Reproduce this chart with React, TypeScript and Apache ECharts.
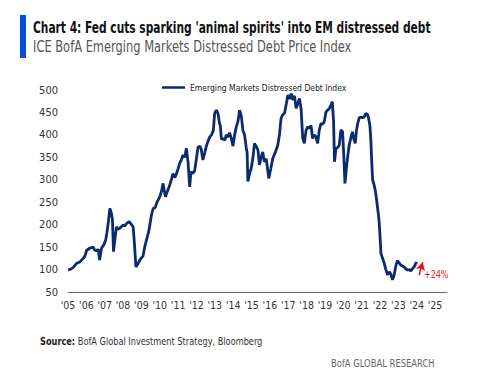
import React, { useEffect, useRef } from "react";
import * as echarts from "echarts";

const years: number[] = [
  2005.0, 2005.15, 2005.29, 2005.47, 2005.65, 2005.83, 2005.92, 2006.02, 2006.2, 2006.38,
  2006.45, 2006.56, 2006.65, 2006.72, 2006.83, 2006.95, 2007.05, 2007.12, 2007.19, 2007.28,
  2007.35, 2007.42, 2007.48, 2007.55, 2007.64, 2007.73, 2007.82, 2007.92, 2008.0, 2008.1,
  2008.2, 2008.33, 2008.46, 2008.55, 2008.62, 2008.7, 2008.8, 2008.9, 2009.0, 2009.09,
  2009.18, 2009.27, 2009.4, 2009.54, 2009.64, 2009.75, 2009.85, 2010.0, 2010.1, 2010.18,
  2010.25, 2010.31, 2010.42, 2010.54, 2010.63, 2010.72, 2010.82, 2010.9, 2011.0, 2011.09,
  2011.18, 2011.27, 2011.36, 2011.45, 2011.54, 2011.63, 2011.7, 2011.8, 2011.9, 2011.99,
  2012.08, 2012.18, 2012.26, 2012.35, 2012.45, 2012.53, 2012.62, 2012.72, 2012.82, 2012.92,
  2012.99, 2013.08, 2013.17, 2013.26, 2013.3, 2013.36, 2013.45, 2013.55, 2013.62, 2013.72,
  2013.8, 2013.9, 2013.99, 2014.08, 2014.17, 2014.26, 2014.35, 2014.45, 2014.53, 2014.62,
  2014.71, 2014.76, 2014.8, 2014.9, 2014.98, 2015.08, 2015.16, 2015.25, 2015.35, 2015.43,
  2015.52, 2015.61, 2015.7, 2015.8, 2015.94, 2016.05, 2016.16, 2016.3, 2016.43, 2016.52,
  2016.61, 2016.7, 2016.8, 2016.9, 2016.98, 2017.07, 2017.16, 2017.25, 2017.34, 2017.43,
  2017.52, 2017.61, 2017.7, 2017.79, 2017.88, 2017.97, 2018.06, 2018.15, 2018.24, 2018.33,
  2018.42, 2018.51, 2018.6, 2018.69, 2018.78, 2018.87, 2018.96, 2019.05, 2019.14, 2019.24,
  2019.32, 2019.4, 2019.47, 2019.52, 2019.6, 2019.7, 2019.78, 2019.87, 2019.96, 2020.02,
  2020.09, 2020.18, 2020.25, 2020.32, 2020.42, 2020.5, 2020.58, 2020.65, 2020.72, 2020.78,
  2020.87, 2020.96, 2021.05, 2021.14, 2021.23, 2021.32, 2021.38, 2021.45, 2021.5, 2021.55,
  2021.6, 2021.67, 2021.74, 2021.8, 2021.86, 2021.92, 2021.96, 2022.02, 2022.05, 2022.14,
  2022.23, 2022.32, 2022.41, 2022.5, 2022.59, 2022.68, 2022.77, 2022.86, 2022.95, 2023.04,
  2023.13, 2023.22, 2023.3, 2023.4, 2023.5, 2023.59, 2023.68, 2023.77, 2023.86, 2023.93,
  2024.0,
];

const values: number[] = [
  99, 101, 105, 114, 117, 125, 130, 143, 148, 150,
  143, 142, 145, 121, 148, 155, 165, 182, 203, 236,
  228, 212, 140, 165, 195, 190, 192, 196, 199, 197,
  203, 207, 200, 195, 158, 106, 112, 120, 126, 130,
  150, 165, 185, 220, 236, 238, 250, 262, 275, 292,
  275, 262, 275, 288, 300, 314, 305, 312, 325, 337,
  345, 355, 350, 370, 340, 284, 318, 314, 320, 345,
  372, 375, 368, 344, 360, 374, 385, 395, 400, 410,
  448, 455, 448, 425, 420, 390, 392, 388, 400, 395,
  405, 392, 375, 400, 418, 430, 455, 440, 410, 400,
  372, 360, 296, 315, 325, 350, 381, 375, 366, 333,
  350, 362, 340, 347, 303, 325, 348, 362, 377, 400,
  437, 445, 449, 470, 489, 480, 492, 478, 487, 459,
  470, 481, 458, 392, 381, 410, 418, 415, 421, 392,
  400, 396, 381, 410, 425, 424, 429, 450, 455, 459,
  465, 474, 430, 340, 370, 372, 377, 411, 407, 360,
  292, 330, 355, 377, 395, 407, 390, 381, 410, 425,
  438, 440, 438, 440, 448, 445, 437, 420, 390, 340,
  299, 290, 277, 260, 240, 220, 203, 160, 136, 125,
  114, 100, 88, 95, 90, 77, 88, 108, 120, 115,
  110, 108, 106, 102, 99, 100, 97, 102, 106, 112,
  117,
];

const seriesName = "Emerging Markets Distressed Debt Index";
const titleText = "Chart 4: Fed cuts sparking 'animal spirits' into EM distressed debt";
const subtitleText = "ICE BofA Emerging Markets Distressed Debt Price Index";
const sourceText = "BofA Global Investment Strategy, Bloomberg";
const footerText = "BofA GLOBAL RESEARCH";
const annotationText = "+24%";
const arrowFrom: [number, number] = [2024.13, 88];
const arrowTo: [number, number] = [2024.33, 116];

const NARROW = "'Liberation Sans Narrow', 'DejaVu Sans Condensed', 'Liberation Sans', sans-serif";

export default function App() {
  const ref = useRef<HTMLDivElement>(null);
  useEffect(() => {
    document.body.style.margin = "0";
    if (!ref.current) return;
    const chart = echarts.init(ref.current, undefined, { renderer: "svg" });
    const data = years.map((y, i) => [y, values[i]]);
    chart.setOption({
      animation: false,
      backgroundColor: "#ffffff",
      grid: { left: 68, right: 53, top: 90, bottom: 93, containLabel: false },
      legend: {
        data: [seriesName],
        left: 157,
        top: 78,
        icon: "rect",
        itemWidth: 23,
        itemHeight: 2.5,
        textStyle: { fontFamily: NARROW, fontSize: 8.5, color: "#222" },
      },
      xAxis: {
        type: "value",
        min: 2005,
        max: 2025.65,
        interval: 1,
        splitLine: { show: false },
        axisTick: { show: false },
        axisLine: { show: true, lineStyle: { color: "#666", width: 1 } },
        axisLabel: {
          showMaxLabel: false,
          margin: 7,
          fontFamily: NARROW,
          fontSize: 10.5,
          color: "#333",
          formatter: (v: number) =>
            Number.isInteger(v) ? "'" + String(v % 100).padStart(2, "0") : "",
        },
      },
      yAxis: {
        type: "value",
        min: 50,
        max: 500,
        interval: 50,
        splitLine: { show: false },
        axisTick: { show: false },
        axisLine: { show: false },
        axisLabel: { margin: 10, fontFamily: NARROW, fontSize: 11, color: "#333" },
      },
      series: [
        {
          name: seriesName,
          type: "line",
          data,
          symbol: "none",
          lineStyle: { color: "#0b2b6e", width: 2.8 },
          itemStyle: { color: "#0b2b6e" },
          markLine: {
            silent: true,
            symbol: ["none", "arrow"],
            symbolSize: [7, 8],
            label: { show: false },
            lineStyle: { color: "#e8141c", width: 1.6, type: "solid" },
            data: [[{ coord: arrowFrom }, { coord: arrowTo }]],
          },
        },
      ],
      graphic: [
        { type: "rect", shape: { x: 20, y: 15, width: 6, height: 43 }, style: { fill: "#0a4fd1" } },
        {
          type: "text",
          x: 33,
          y: 27,
          scaleX: 0.79,
          style: {
            text: titleText,
            fontFamily: NARROW,
            fontWeight: "bold",
            fontSize: 15,
            fill: "#111",
            verticalAlign: "middle",
          },
        },
        {
          type: "text",
          x: 33,
          y: 47,
          scaleX: 0.85,
          style: {
            text: subtitleText,
            fontFamily: NARROW,
            fontSize: 15,
            fill: "#555",
            verticalAlign: "middle",
          },
        },
        {
          type: "text",
          x: 424,
          y: 274,
          scaleX: 0.8,
          style: { text: annotationText, fontFamily: NARROW, fontSize: 11, fill: "#e8141c", verticalAlign: "middle" },
        },
        {
          type: "text",
          x: 40,
          y: 341,
          scaleX: 0.83,
          style: {
            text: "{b|Source:} " + sourceText,
            fontFamily: NARROW,
            fontSize: 11,
            fill: "#333",
            verticalAlign: "middle",
            rich: { b: { fontFamily: NARROW, fontSize: 11, fontWeight: "bold", fill: "#222" } },
          },
        },
        {
          type: "text",
          x: 331,
          y: 363,
          scaleX: 0.85,
          style: { text: footerText, fontFamily: NARROW, fontSize: 11, fill: "#666", verticalAlign: "middle" },
        },
      ],
    });
    return () => chart.dispose();
  }, []);
  return <div ref={ref} style={{ width: 500, height: 385 }} />;
}
